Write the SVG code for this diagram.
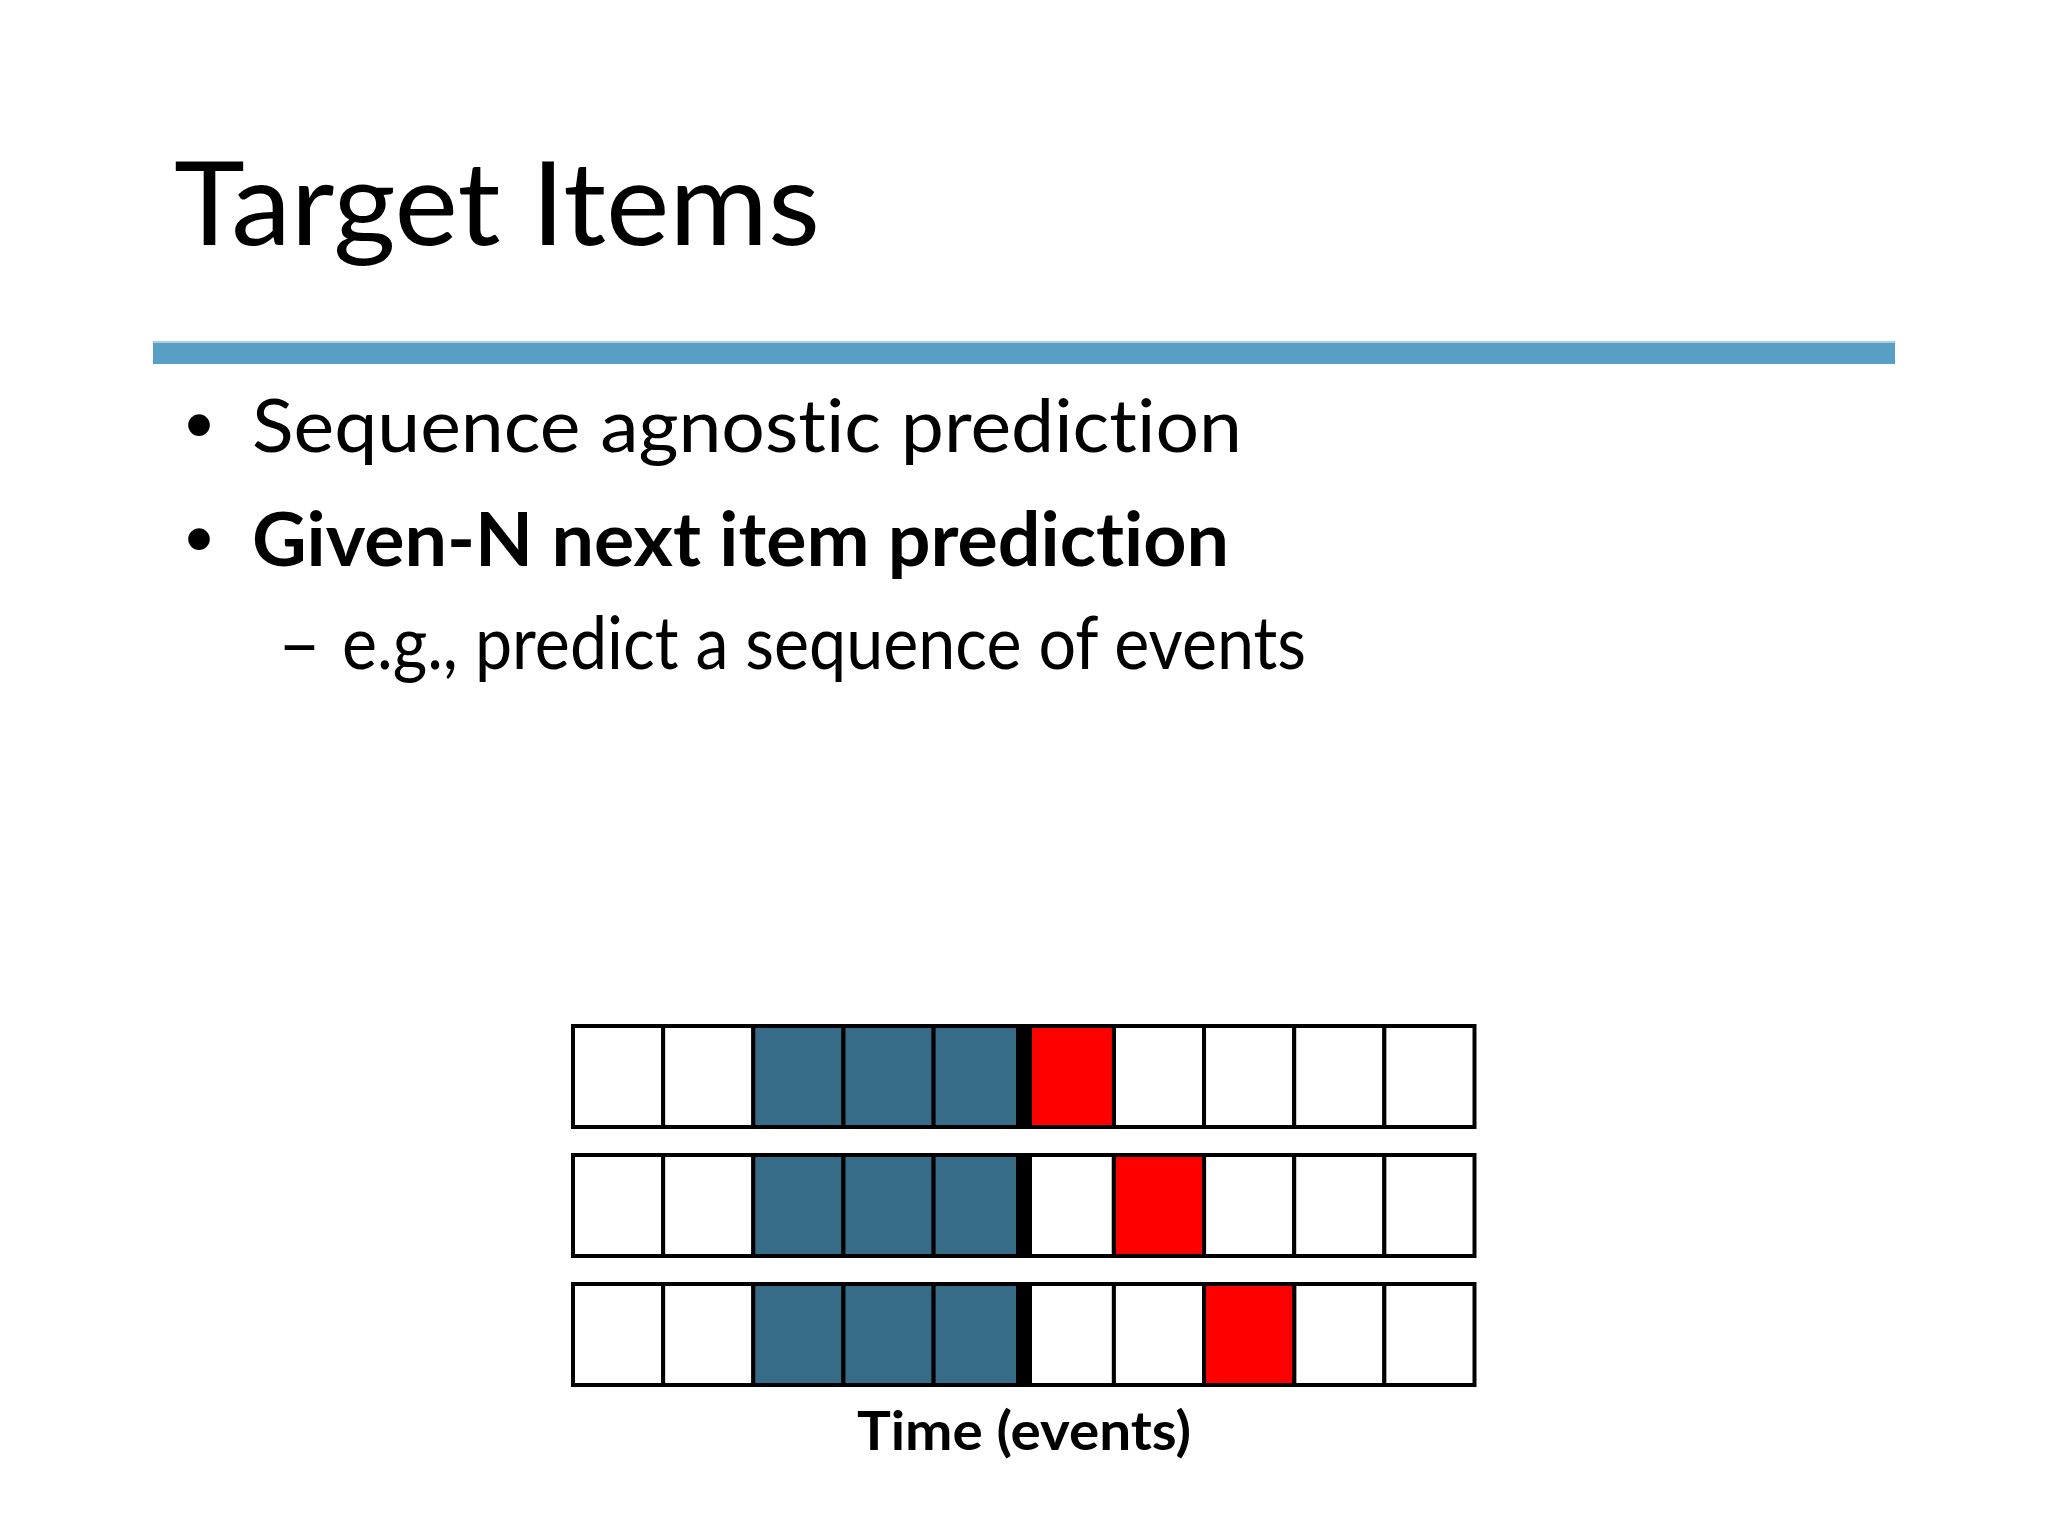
<svg xmlns="http://www.w3.org/2000/svg" width="2048" height="1536" viewBox="0 0 2048 1536">
<style>
text{font-variant-ligatures:none;font-feature-settings:"liga" 0,"clig" 0}
.title{font-family:Lato,"Open Sans",sans-serif;font-size:116px;fill:#000}
.body{font-family:Lato,"Open Sans",sans-serif;font-size:74px;fill:#000}
.bold{font-weight:bold}
.bul{font-family:"Liberation Sans",Arial,sans-serif;font-size:80px;fill:#000}
.cell{fill:#fff;stroke:#000;stroke-width:4}
.given{fill:#376C89}
.target{fill:#FF0000}
.sep{fill:#000}
.lbl{font-family:Lato,"Open Sans",sans-serif;font-size:54px;font-weight:bold;fill:#000}
</style>
<defs>
<g id="rowbase">
<rect class="cell" x="573" y="0" width="90.15" height="101"/>
<rect class="cell" x="663.15" y="0" width="90.15" height="101"/>
<rect class="cell given" x="753.3" y="0" width="90.15" height="101"/>
<rect class="cell given" x="843.45" y="0" width="90.15" height="101"/>
<rect class="cell given" x="933.6" y="0" width="90.15" height="101"/>
<rect class="cell" x="1023.75" y="0" width="90.15" height="101"/>
<rect class="cell" x="1113.9" y="0" width="90.15" height="101"/>
<rect class="cell" x="1204.05" y="0" width="90.15" height="101"/>
<rect class="cell" x="1294.2" y="0" width="90.15" height="101"/>
<rect class="cell" x="1384.35" y="0" width="90.15" height="101"/>
</g>
</defs>
<rect x="0" y="0" width="2048" height="1536" fill="#fff"/>
<g id="title">
<text class="title" x="174" y="245" textLength="646" lengthAdjust="spacingAndGlyphs">Target Items</text>
</g>
<g id="rule">
<rect x="153" y="342" width="1742" height="22" fill="#579FC4"/>
<rect x="153" y="341" width="1742" height="2" fill="#A9CFE3"/>
</g>
<g id="bullets">
<text class="bul" x="185" y="452">•</text>
<text class="body" x="252" y="452" textLength="990" lengthAdjust="spacingAndGlyphs">Sequence agnostic prediction</text>
<text class="bul" x="185" y="566">•</text>
<text class="body bold" x="252" y="566" textLength="977" lengthAdjust="spacingAndGlyphs">Given-N next item prediction</text>
<text class="body" x="278" y="669">–</text>
<text class="body" x="342" y="669" textLength="964" lengthAdjust="spacingAndGlyphs">e.g., predict a sequence of events</text>
</g>
<g id="row1" transform="translate(0,1026)">
<use href="#rowbase"/>
<rect class="cell target" x="1023.75" y="0" width="90.15" height="101"/>
<rect class="sep" x="1016" y="-2" width="16" height="105"/>
</g>
<g id="row2" transform="translate(0,1155)">
<use href="#rowbase"/>
<rect class="cell target" x="1113.9" y="0" width="90.15" height="101"/>
<rect class="sep" x="1016" y="-2" width="16" height="105"/>
</g>
<g id="row3" transform="translate(0,1284)">
<use href="#rowbase"/>
<rect class="cell target" x="1204.05" y="0" width="90.15" height="101"/>
<rect class="sep" x="1016" y="-2" width="16" height="105"/>
</g>
<g id="axis-label">
<text class="lbl" x="857" y="1450" textLength="334" lengthAdjust="spacingAndGlyphs">Time (events)</text>
</g>
<g id="connectors"/>
</svg>
